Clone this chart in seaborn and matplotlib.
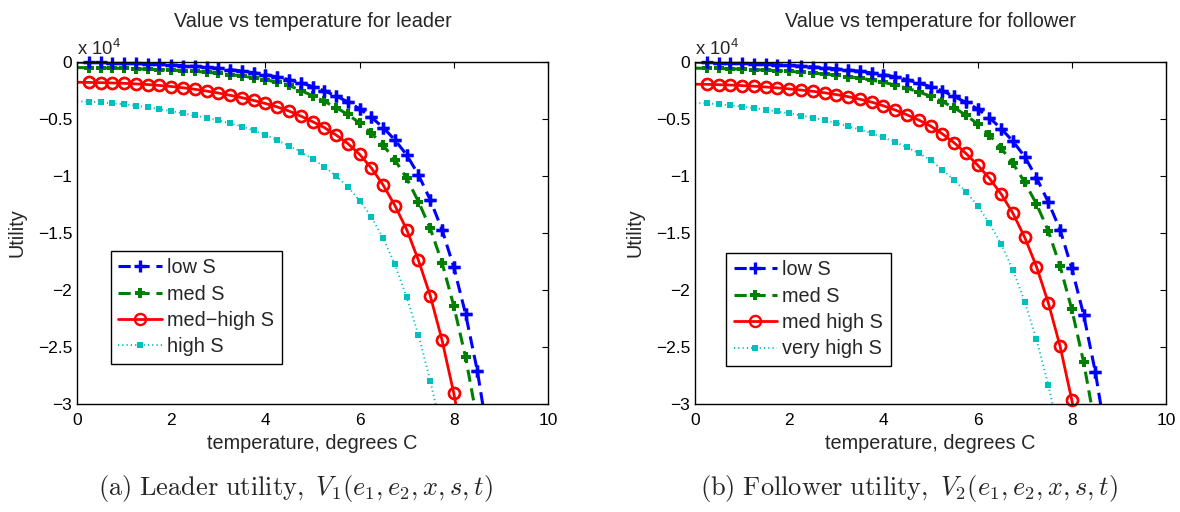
import numpy as np
import pandas as pd
import matplotlib
matplotlib.use("Agg")
import matplotlib.pyplot as plt
import seaborn as sns

# ---------------- data (utility in units of 10^4) ----------------
temp = [0.0, 0.25, 0.5, 0.75, 1.0, 1.25, 1.5, 1.75, 2.0, 2.25, 2.5, 2.75, 3.0,
        3.25, 3.5, 3.75, 4.0, 4.25, 4.5, 4.75, 5.0, 5.25, 5.5, 5.75, 6.0,
        6.25, 6.5, 6.75, 7.0, 7.25, 7.5, 7.75, 8.0, 8.25, 8.5, 8.75]

# leader
lead_low = [-0.001, -0.002, -0.004, -0.007, -0.010, -0.013, -0.017, -0.021, -0.026,
            -0.032, -0.039, -0.047, -0.056, -0.067, -0.079, -0.094, -0.111, -0.131,
            -0.155, -0.183, -0.215, -0.253, -0.298, -0.350, -0.411, -0.485, -0.575,
            -0.684, -0.815, -0.990, -1.210, -1.470, -1.800, -2.210, -2.710, -3.350]
lead_med = [-0.049, -0.050, -0.052, -0.054, -0.057, -0.060, -0.063, -0.067, -0.071,
            -0.076, -0.082, -0.090, -0.099, -0.110, -0.123, -0.138, -0.156, -0.178,
            -0.205, -0.250, -0.295, -0.345, -0.400, -0.460, -0.535, -0.625, -0.730,
            -0.860, -1.020, -1.225, -1.460, -1.760, -2.140, -2.590, -3.150]
lead_medhigh = [-0.178, -0.179, -0.181, -0.184, -0.187, -0.192, -0.198, -0.206, -0.215,
                -0.226, -0.239, -0.255, -0.272, -0.292, -0.313, -0.337, -0.364, -0.394,
                -0.430, -0.474, -0.523, -0.575, -0.640, -0.715, -0.810, -0.930, -1.079,
                -1.260, -1.470, -1.740, -2.050, -2.440, -2.906, -3.450]
lead_high = [-0.345, -0.348, -0.354, -0.362, -0.371, -0.383, -0.397, -0.413, -0.431,
             -0.450, -0.469, -0.490, -0.512, -0.537, -0.566, -0.600, -0.640, -0.686,
             -0.736, -0.787, -0.851, -0.918, -1.000, -1.094, -1.216, -1.357, -1.547,
             -1.775, -2.064, -2.395, -2.795, -3.250]

# follower
foll_low = [-0.001, -0.003, -0.006, -0.009, -0.012, -0.016, -0.020, -0.025, -0.030,
            -0.036, -0.043, -0.051, -0.060, -0.070, -0.082, -0.096, -0.111, -0.130,
            -0.155, -0.185, -0.215, -0.253, -0.302, -0.354, -0.412, -0.488, -0.585,
            -0.695, -0.830, -1.015, -1.228, -1.470, -1.810, -2.215, -2.720, -3.350]
foll_med = [-0.054, -0.055, -0.057, -0.060, -0.063, -0.067, -0.071, -0.076, -0.082,
            -0.089, -0.097, -0.106, -0.116, -0.128, -0.142, -0.158, -0.178, -0.202,
            -0.230, -0.262, -0.300, -0.347, -0.402, -0.465, -0.544, -0.640, -0.757,
            -0.889, -1.055, -1.245, -1.480, -1.790, -2.170, -2.630, -3.200]
foll_medhigh = [-0.195, -0.196, -0.199, -0.202, -0.207, -0.212, -0.219, -0.227, -0.236,
                -0.246, -0.257, -0.270, -0.286, -0.304, -0.326, -0.352, -0.384, -0.421,
                -0.463, -0.509, -0.561, -0.630, -0.708, -0.801, -0.904, -1.020, -1.158,
                -1.327, -1.538, -1.795, -2.111, -2.491, -2.965, -3.500]
foll_vhigh = [-0.360, -0.363, -0.370, -0.380, -0.391, -0.404, -0.418, -0.434, -0.451,
              -0.470, -0.490, -0.511, -0.535, -0.562, -0.592, -0.625, -0.662, -0.702,
              -0.749, -0.800, -0.860, -0.945, -1.035, -1.137, -1.260, -1.415, -1.596,
              -1.825, -2.102, -2.433, -2.833, -3.300]

lead_labels = ["low S", "med S", "med\u2212high S", "high S"]
foll_labels = ["low S", "med S", "med high S", "very high S"]
yticks = [0, -0.5, -1, -1.5, -2, -2.5, -3]
yticklabels = ["0", "\u22120.5", "\u22121", "\u22121.5", "\u22122", "\u22122.5", "\u22123"]
xticks = [0, 2, 4, 6, 8, 10]

# ---------------- style ----------------
sns.set_style("white")
plt.rcParams["font.family"] = ["Liberation Sans", "DejaVu Sans"]
plt.rcParams["mathtext.fontset"] = "cm"
plt.rcParams["axes.unicode_minus"] = True

BLUE = (0, 0, 1)
GREEN = (0, 0.5, 0)
RED = (1, 0, 0)
CYAN = (0, 0.75, 0.75)
line_styles = [
    dict(color=BLUE, linestyle=(0, (4.0, 2.2)), lw=2.2, zorder=2.6),
    dict(color=GREEN, linestyle=(0, (4.0, 2.2)), lw=2.2, zorder=2.5),
    dict(color=RED, linestyle="-", lw=2.0, zorder=2.4),
    dict(color=CYAN, linestyle=(0, (0.6, 1.6)), lw=1.4, zorder=2.3),
]
marker_styles = [
    dict(marker="+", ms=8, mew=2.4, markeredgecolor=BLUE),
    dict(marker="P", ms=6.8, mew=0.0, markeredgecolor=GREEN, markerfacecolor=GREEN),
    dict(marker="o", ms=8, mew=1.7, markerfacecolor="none", markeredgecolor=RED),
    dict(marker="s", ms=4.0, mew=0.0, markeredgecolor=CYAN, markerfacecolor=CYAN),
]

FS = 14.3
TFS = 12.5

fig = plt.figure(figsize=(11.8, 5.12), dpi=100)
ax_l = fig.add_axes([77 / 1180, 108 / 512, 471 / 1180, 342 / 512])
ax_r = fig.add_axes([695 / 1180, 108 / 512, 471 / 1180, 342 / 512])


def draw(ax, series, labels, title, legend_xy):
    for vals, lab, ls, ms in zip(series, labels, line_styles, marker_styles):
        n = len(vals)
        df = pd.DataFrame({"temperature": temp[:n], "utility": vals})
        # line (clipped at the axes) with markers, used for the legend
        sns.lineplot(data=df, x="temperature", y="utility", ax=ax, label=lab,
                     markevery=slice(1, None), **ls, **ms)
        # markers drawn unclipped (as MATLAB does) for points inside the range
        inside = df[(df["utility"] >= -3) & (df["temperature"] > 0)]
        ax.plot(inside["temperature"], inside["utility"], linestyle="none",
                clip_on=False, zorder=ls["zorder"], **ms)
    ax.set_xlim(0, 10)
    ax.set_ylim(-3, 0)
    ax.set_xticks(xticks)
    ax.set_xticklabels([str(t) for t in xticks])
    ax.set_yticks(yticks)
    ax.set_yticklabels(yticklabels)
    ax.tick_params(direction="in", top=True, right=True, length=4.5, width=0.8,
                   labelsize=TFS, colors="black")
    ax.tick_params(axis="x", pad=6.5)
    ax.tick_params(axis="y", pad=3.5)
    for sp in ax.spines.values():
        sp.set_visible(True)
        sp.set_color("black")
        sp.set_linewidth(1.0)
        sp.set_zorder(3)
    ax.set_xlabel("temperature, degrees C", fontsize=FS, labelpad=4)
    ax.set_ylabel("Utility", fontsize=FS)
    ax.yaxis.set_label_coords(-0.108, 0.5)
    ax.set_title(title, fontsize=FS, pad=25)
    ax.text(0.0, 1.02, r"x 10$^{\mathregular{4}}$", transform=ax.transAxes,
            fontsize=13.3, ha="left", va="baseline")
    leg = ax.legend(loc="lower left", bbox_to_anchor=legend_xy, borderaxespad=0,
                    fontsize=FS, numpoints=1, handlelength=2.2, handletextpad=0.25,
                    labelspacing=0.37, borderpad=0.38, fancybox=False,
                    framealpha=1, edgecolor="black")
    leg.get_frame().set_linewidth(1.0)
    leg.set_zorder(5)


draw(ax_l, [lead_low, lead_med, lead_medhigh, lead_high], lead_labels,
     "Value vs temperature for leader", (0.072, 0.117))
draw(ax_r, [foll_low, foll_med, foll_medhigh, foll_vhigh], foll_labels,
     "Value vs temperature for follower", (0.066, 0.111))

fig.text(296 / 1180, 1 - 488 / 512,
         r"$\mathrm{(a)\ Leader\ utility,}\ V_1(e_1,e_2,x,s,t)$",
         fontsize=19, ha="center", va="center")
fig.text(909 / 1180, 1 - 488 / 512,
         r"$\mathrm{(b)\ Follower\ utility,}\ V_2(e_1,e_2,x,s,t)$",
         fontsize=19, ha="center", va="center")

fig.savefig("out.png", dpi=100)
